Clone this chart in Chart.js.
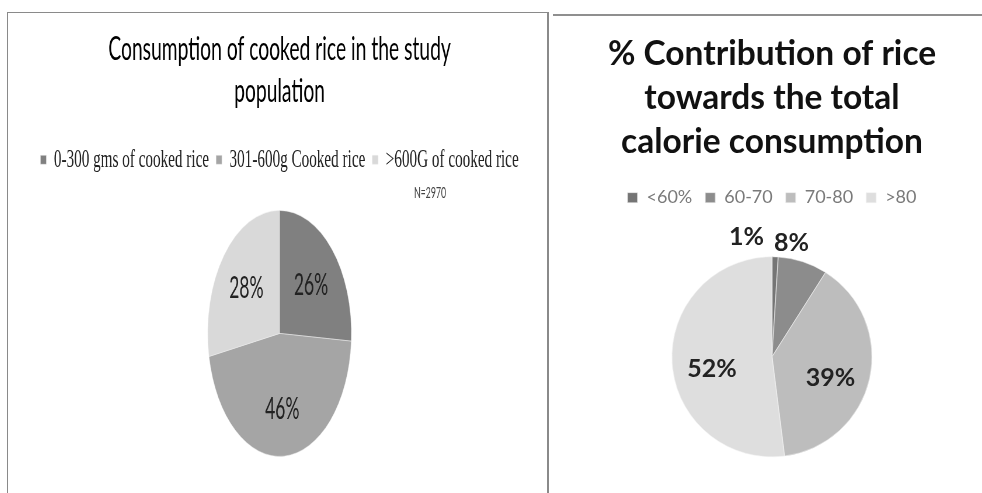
<!DOCTYPE html>
<html>
<head>
<meta charset="utf-8">
<script src="https://cdn.jsdelivr.net/npm/chart.js@4.4.1/dist/chart.umd.min.js"></script>
<style>
    html, body { margin: 0; padding: 0; background: #fff; overflow: hidden; width: 982px; height: 493px; }
    .frame-left { position: absolute; left: 7px; top: 12px; width: 539px; height: 490px; border: 1px solid #8a8a8a; border-right-width: 2px; border-bottom: none; }
    .frame-right { position: absolute; left: 553px; top: 14px; width: 429px; border-top: 2px solid #8f8f8f; }
    /* the rice-weight chart is drawn wide and pressed sideways, so its pie is an upright oval */
    #leftBox { position: absolute; left: 8px; top: 13px; width: 930px; height: 480px; transform: scaleX(0.584); transform-origin: 0 0; }
    #rightBox { position: absolute; left: 562px; top: 15px; width: 420px; height: 490px; }
</style>
</head>
<body>
<div class="frame-left"></div>
<div class="frame-right"></div>
<div id="leftBox"><canvas id="rice-weight"></canvas></div>
<div id="rightBox"><canvas id="rice-calories"></canvas></div>

<script>
    // cooked rice eaten per day
    var weightCategories = ['0-300 gms of cooked rice', '301-600g Cooked rice', '>600G of cooked rice'];
    var weightShares = [26, 46, 28];
    var weightColors = ['#808080', '#a5a5a5', '#d9d9d9'];
    var sampleNote = 'N=2970';

    // share of total calories coming from rice
    var calorieCategories = ['<60%', '60-70', '70-80', '>80'];
    var calorieShares = [1, 8, 39, 52];
    var calorieColors = ['#757575', '#8c8c8c', '#bdbdbd', '#dedede'];

    Chart.defaults.font.family = 'Lato, "Open Sans", sans-serif';
    Chart.defaults.animation = false;

    // percentage labels on the slices; thin slices get theirs just outside the rim
    var sliceLabels = {
        id: 'sliceLabels',
        afterDatasetsDraw: function (chart, args, opts) {
            var ctx = chart.ctx;
            var values = chart.data.datasets[0].data;
            var meta = chart.getDatasetMeta(0);
            var outside = [];
            ctx.save();
            ctx.font = opts.font;
            ctx.fillStyle = opts.color;
            ctx.textBaseline = 'middle';
            meta.data.forEach(function (arc, i) {
                var text = values[i] + '%';
                var mid = (arc.startAngle + arc.endAngle) / 2;
                if (values[i] >= opts.minInside) {
                    var r = arc.outerRadius * opts.inset;
                    ctx.textAlign = 'center';
                    ctx.fillText(text, arc.x + Math.cos(mid) * r, arc.y + Math.sin(mid) * r + opts.shiftY);
                } else {
                    var ro = arc.outerRadius + opts.outset;
                    outside.push({ text: text, x: arc.x + Math.cos(mid) * ro, y: arc.y + Math.sin(mid) * ro, w: ctx.measureText(text).width });
                }
            });
            // keep neighbouring outside labels apart
            for (var k = outside.length - 2; k >= 0; k--) {
                var next = outside[k + 1];
                var limit = next.x - next.w - opts.gap;
                if (outside[k].x > limit) outside[k].x = limit;
            }
            ctx.textAlign = 'right';
            outside.forEach(function (l) {
                ctx.fillText(l.text, l.x, l.y);
            });
            ctx.restore();
        }
    };

    var sideNote = {
        id: 'sideNote',
        afterDraw: function (chart, args, opts) {
            if (!opts.text) return;
            var ctx = chart.ctx;
            ctx.save();
            ctx.font = opts.font;
            ctx.fillStyle = opts.color;
            ctx.textAlign = 'center';
            ctx.textBaseline = 'middle';
            ctx.fillText(opts.text, chart.width * opts.xFrac, opts.y);
            ctx.restore();
        }
    };

    new Chart(document.getElementById('rice-weight'), {
        type: 'pie',
        data: {
            labels: weightCategories,
            datasets: [{
                data: weightShares,
                backgroundColor: weightColors,
                borderColor: '#ededed',
                borderWidth: 0.5,
                radius: 123
            }]
        },
        options: {
            responsive: true, maintainAspectRatio: false,
            layout: { padding: { bottom: 9 } },
            plugins: {
                title: {
                    display: true,
                    text: ['Consumption of cooked rice in the study', 'population'],
                    color: '#000',
                    font: { size: 33, weight: 'normal', lineHeight: 1.27 },
                    padding: { top: 15, bottom: 23 }
                },
                legend: {
                    position: 'top',
                    labels: {
                        color: '#222',
                        font: { family: '"Liberation Serif", serif', size: 26 },
                        boxWidth: 10, boxHeight: 9, padding: 12
                    }
                },
                tooltip: { enabled: false },
                sliceLabels: { font: '30px Lato, sans-serif', color: '#222', minInside: 0, inset: 0.6, outset: 20, gap: 18, shiftY: 2 },
                sideNote: { text: sampleNote, font: '15px Lato, sans-serif', color: '#444', xFrac: 0.777, y: 180 }
            }
        },
        plugins: [sliceLabels, sideNote]
    });

    new Chart(document.getElementById('rice-calories'), {
        type: 'pie',
        data: {
            labels: calorieCategories,
            datasets: [{
                data: calorieShares,
                backgroundColor: calorieColors,
                borderColor: '#f0f0f0',
                borderWidth: 0.5,
                radius: 100
            }]
        },
        options: {
            responsive: true, maintainAspectRatio: false,
            layout: { padding: { bottom: 8 } },
            plugins: {
                title: {
                    display: true,
                    text: ['% Contribution of rice', 'towards the total', 'calorie consumption'],
                    color: '#111',
                    font: { size: 33.5, weight: 'bold', lineHeight: 1.31 },
                    padding: { top: 17, bottom: 12 }
                },
                legend: {
                    position: 'top',
                    labels: {
                        color: '#7a7a7a',
                        font: { size: 18 },
                        boxWidth: 10, boxHeight: 10, padding: 13
                    }
                },
                tooltip: { enabled: false },
                sliceLabels: { font: 'bold 25px Lato, sans-serif', color: '#222', minInside: 10, inset: 0.6, outset: 20, gap: 10, shiftY: 8 }
            }
        },
        plugins: [sliceLabels]
    });
</script>
</body>
</html>
